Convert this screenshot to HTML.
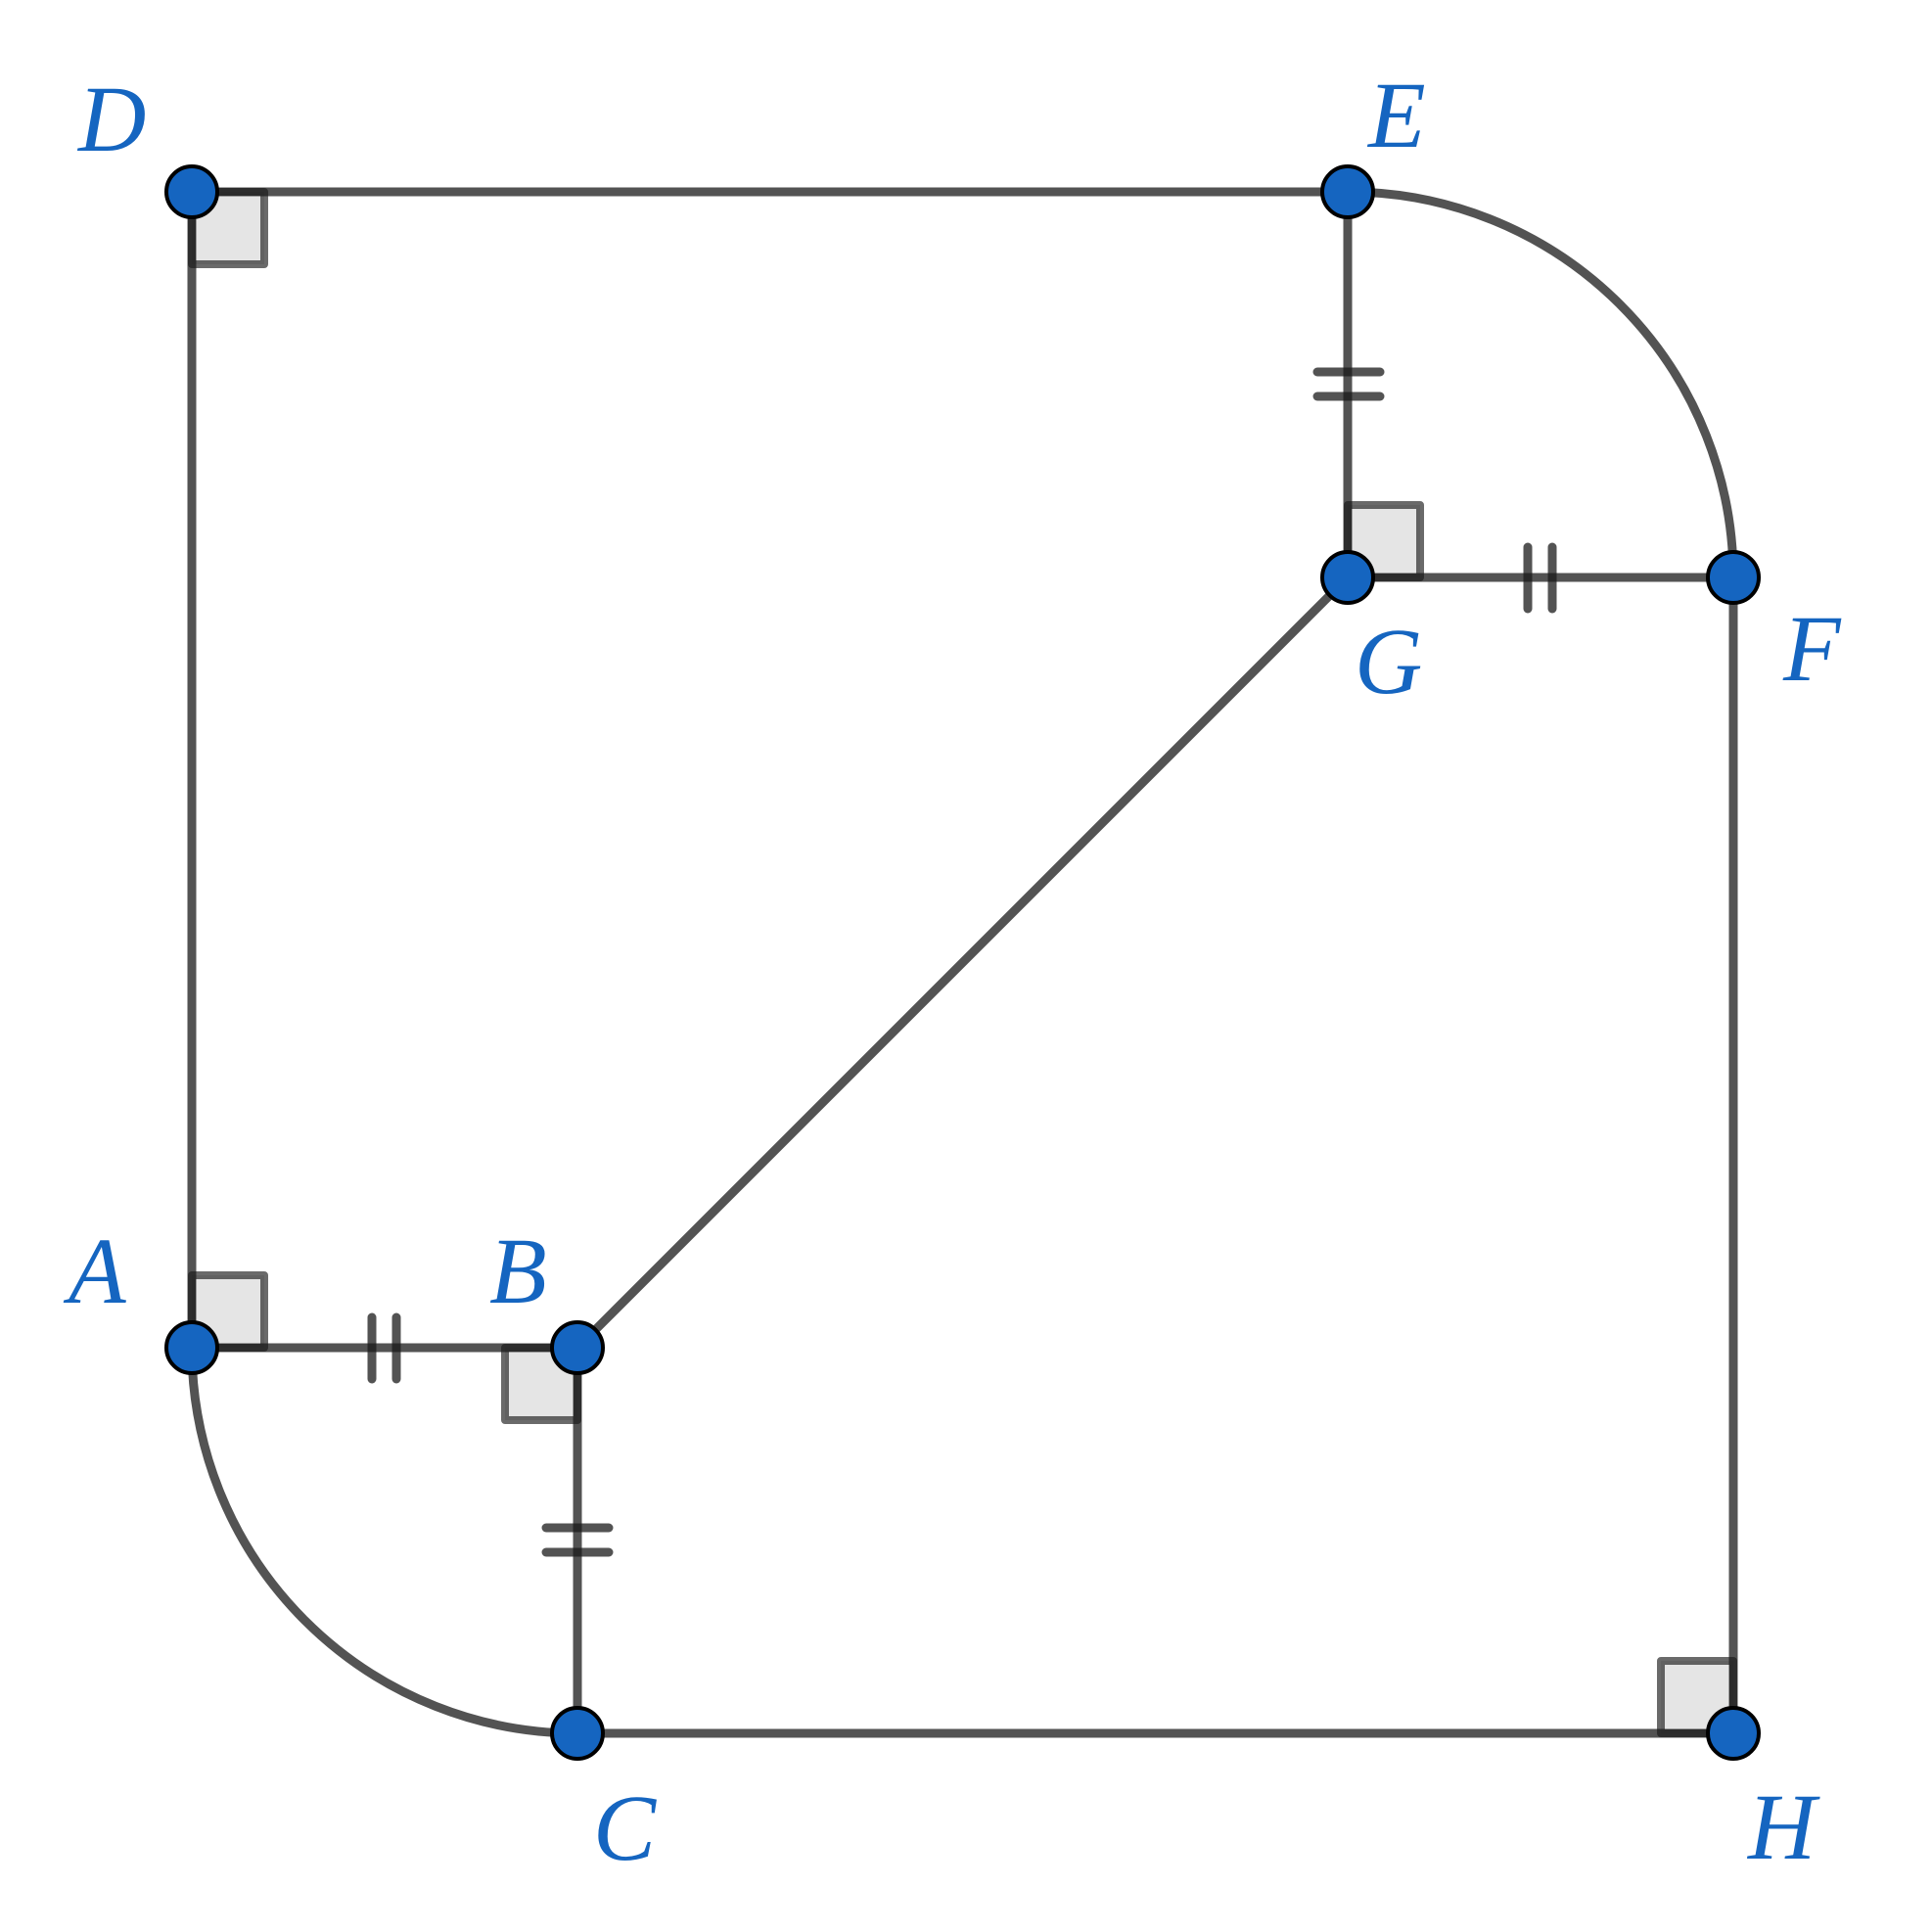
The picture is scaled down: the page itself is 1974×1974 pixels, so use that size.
<!DOCTYPE html>
<html><head><meta charset="utf-8"><style>html,body{margin:0;padding:0;background:#fff}svg{display:block}</style></head>
<body>
<svg width="1974" height="1974" viewBox="0 0 1974 1974" xmlns="http://www.w3.org/2000/svg">
<g fill="#e5e5e5" stroke="#1a1a1a" stroke-opacity="0.65" stroke-width="8" stroke-linejoin="round">
<rect x="196" y="196" width="74" height="74"/>
<rect x="196" y="1303" width="74" height="74"/>
<rect x="516" y="1377" width="74" height="74"/>
<rect x="1377" y="516" width="74" height="74"/>
<rect x="1697" y="1697" width="74" height="74"/>
</g>
<g fill="none" stroke="#1a1a1a" stroke-opacity="0.75" stroke-width="9" stroke-linecap="round">
<line x1="196" y1="196" x2="1377" y2="196"/>
<line x1="196" y1="196" x2="196" y2="1377"/>
<line x1="196" y1="1377" x2="590" y2="1377"/>
<line x1="590" y1="1377" x2="590" y2="1771"/>
<line x1="590" y1="1771" x2="1771" y2="1771"/>
<line x1="1771" y1="1771" x2="1771" y2="590"/>
<line x1="1771" y1="590" x2="1377" y2="590"/>
<line x1="1377" y1="590" x2="1377" y2="196"/>
<line x1="1377" y1="590" x2="590" y2="1377"/>
<path d="M196 1377 A394 394 0 0 0 590 1771"/>
<path d="M1377 196 A394 394 0 0 1 1771 590"/>
<line x1="380" y1="1346" x2="380" y2="1409"/>
<line x1="405" y1="1346" x2="405" y2="1409"/>
<line x1="558" y1="1561" x2="622" y2="1561"/>
<line x1="558" y1="1586" x2="622" y2="1586"/>
<line x1="1346" y1="380" x2="1410" y2="380"/>
<line x1="1346" y1="405" x2="1410" y2="405"/>
<line x1="1561" y1="559" x2="1561" y2="622"/>
<line x1="1586" y1="559" x2="1586" y2="622"/>
</g>
<g fill="#1565C0" stroke="#000" stroke-width="4">
<circle cx="196" cy="196" r="26"/>
<circle cx="1377" cy="196" r="26"/>
<circle cx="196" cy="1377" r="26"/>
<circle cx="590" cy="1377" r="26"/>
<circle cx="590" cy="1771" r="26"/>
<circle cx="1377" cy="590" r="26"/>
<circle cx="1771" cy="590" r="26"/>
<circle cx="1771" cy="1771" r="26"/>
</g>
<g fill="#1565C0" font-family="Liberation Serif, serif" font-style="italic" font-size="96">
<text x="80" y="154">D</text>
<text x="1398" y="150">E</text>
<text x="70" y="1331">A</text>
<text x="500" y="1331">B</text>
<text x="1384" y="708">G</text>
<text x="1822" y="695">F</text>
<text x="606" y="1900">C</text>
<text x="1786" y="1899">H</text>
</g>
</svg>
</body></html>
